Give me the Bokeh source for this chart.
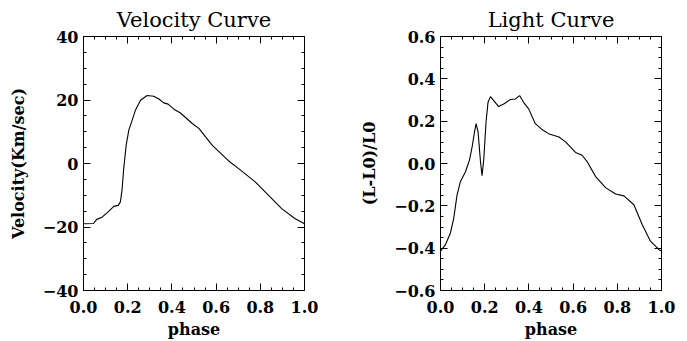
from bokeh.plotting import figure
from bokeh.layouts import row
from bokeh.models import Range1d, FixedTicker, CustomJSTickFormatter, LinearAxis
from bokeh.embed import file_html
from bokeh.resources import INLINE

# Velocity curve data (phase, km/s)
vel_phase = [0.0, 0.045, 0.06, 0.084, 0.114, 0.137, 0.157, 0.167, 0.175, 0.182,
             0.193, 0.205, 0.22, 0.235, 0.258, 0.288, 0.318, 0.341, 0.363, 0.383,
             0.409, 0.439, 0.463, 0.492, 0.523, 0.583, 0.657, 0.702, 0.777, 0.823,
             0.898, 0.958, 1.0]
vel_value = [-19.0, -18.9, -17.6, -16.9, -15.1, -13.5, -13.2, -12.1, -7.9, -1.6,
             5.7, 10.5, 13.6, 16.8, 19.9, 21.4, 21.2, 20.3, 19.1, 18.7,
             17.1, 15.9, 14.4, 12.6, 11.0, 5.7, 0.8, -1.6, -5.8, -9.0,
             -14.3, -17.4, -19.0]

# Light curve data (phase, (L-L0)/L0)
lig_phase = [0.0, 0.0226, 0.045, 0.06, 0.075, 0.09, 0.113, 0.131, 0.143, 0.154,
             0.161, 0.17, 0.181, 0.188, 0.196, 0.206, 0.215, 0.226, 0.241, 0.263,
             0.286, 0.316, 0.339, 0.358, 0.376, 0.399, 0.429, 0.459, 0.489, 0.536,
             0.566, 0.611, 0.641, 0.664, 0.702, 0.747, 0.792, 0.83, 0.875, 0.913,
             0.95, 0.988, 1.0]
lig_value = [-0.414, -0.383, -0.328, -0.258, -0.148, -0.086, -0.039, 0.016, 0.078, 0.149,
             0.188, 0.149, 0.008, -0.058, 0.023, 0.195, 0.289, 0.316, 0.297, 0.269,
             0.281, 0.302, 0.305, 0.321, 0.289, 0.258, 0.188, 0.161, 0.141, 0.125,
             0.102, 0.052, 0.039, 0.008, -0.062, -0.114, -0.144, -0.153, -0.195, -0.289,
             -0.367, -0.406, -0.414]

titles = ["Velocity Curve", "Light Curve"]
ylabels = ["Velocity(Km/sec)", "(L-L0)/L0"]
xlabel = "phase"

x_major = [0.0, 0.2, 0.4, 0.6, 0.8, 1.0]
x_minor = [i * 0.05 for i in range(21)]
vel_major = [-40, -20, 0, 20, 40]
vel_minor = [-40 + 5 * i for i in range(17)]
lig_major = [-0.6, -0.4, -0.2, 0.0, 0.2, 0.4, 0.6]
lig_minor = [-0.6 + 0.05 * i for i in range(25)]

FONT = "DejaVu Serif"


def fmt(decimals):
    return CustomJSTickFormatter(
        code="var s = Math.abs(tick) < 1e-9 ? (0).toFixed(%d) : tick.toFixed(%d);"
             " return s.replace('-', '\\u2212');" % (decimals, decimals))


BLANK = "return '';"


def style_axis(ax, major, minor, decimals, show_labels=True, standoff=5):
    ax.ticker = FixedTicker(ticks=major, minor_ticks=minor)
    ax.major_tick_in = 7
    ax.major_tick_out = 0
    ax.minor_tick_in = 3
    ax.minor_tick_out = 0
    ax.axis_line_color = "black"
    ax.major_tick_line_color = "black"
    ax.minor_tick_line_color = "black"
    ax.major_label_text_font = FONT
    ax.major_label_text_font_style = "bold"
    ax.major_label_text_font_size = "16px"
    ax.major_label_text_color = "black"
    ax.major_label_standoff = standoff
    ax.axis_label_text_font = FONT
    ax.axis_label_text_font_style = "bold"
    ax.axis_label_text_font_size = "16px"
    ax.axis_label_text_color = "black"
    if show_labels:
        ax.formatter = fmt(decimals)
    else:
        ax.formatter = CustomJSTickFormatter(code=BLANK)
        ax.major_label_standoff = 0


def make_fig(xs, ys, yr, ymaj, ymin, ydec, title, ylabel, width, bl, br, ylstandoff):
    p = figure(width=width, height=341, output_backend="svg", toolbar_location=None,
               x_range=Range1d(0, 1), y_range=Range1d(*yr),
               min_border_left=bl, min_border_right=br, min_border_top=34,
               min_border_bottom=51, title=title)
    p.title.align = "center"
    p.title.text_font = FONT
    p.title.text_font_style = "normal"
    p.title.text_font_size = "21px"
    p.title.text_color = "black"
    p.grid.visible = False
    p.outline_line_color = "black"
    p.background_fill_color = "white"
    p.border_fill_color = "white"
    style_axis(p.xaxis[0], x_major, x_minor, 1, standoff=10)
    p.xaxis[0].axis_label = xlabel
    p.xaxis[0].axis_label_standoff = 4
    style_axis(p.yaxis[0], ymaj, ymin, ydec, standoff=5)
    p.yaxis[0].axis_label = ylabel
    p.yaxis[0].axis_label_standoff = ylstandoff
    top = LinearAxis()
    style_axis(top, x_major, x_minor, 1, show_labels=False)
    p.add_layout(top, "above")
    right = LinearAxis()
    style_axis(right, ymaj, ymin, ydec, show_labels=False)
    p.add_layout(right, "right")
    p.line(xs, ys, line_color="black", line_width=1.1)
    return p


p1 = make_fig(vel_phase, vel_value, (-40, 40), vel_major, vel_minor, 0, titles[0], ylabels[0],
              343, 83, 39, 12)
p2 = make_fig(lig_phase, lig_value, (-0.6, 0.6), lig_major, lig_minor, 1, titles[1], ylabels[1],
              344, 97, 26, 12)

layout = row(p1, p2)
open("out.html", "w").write(file_html(layout, INLINE))
